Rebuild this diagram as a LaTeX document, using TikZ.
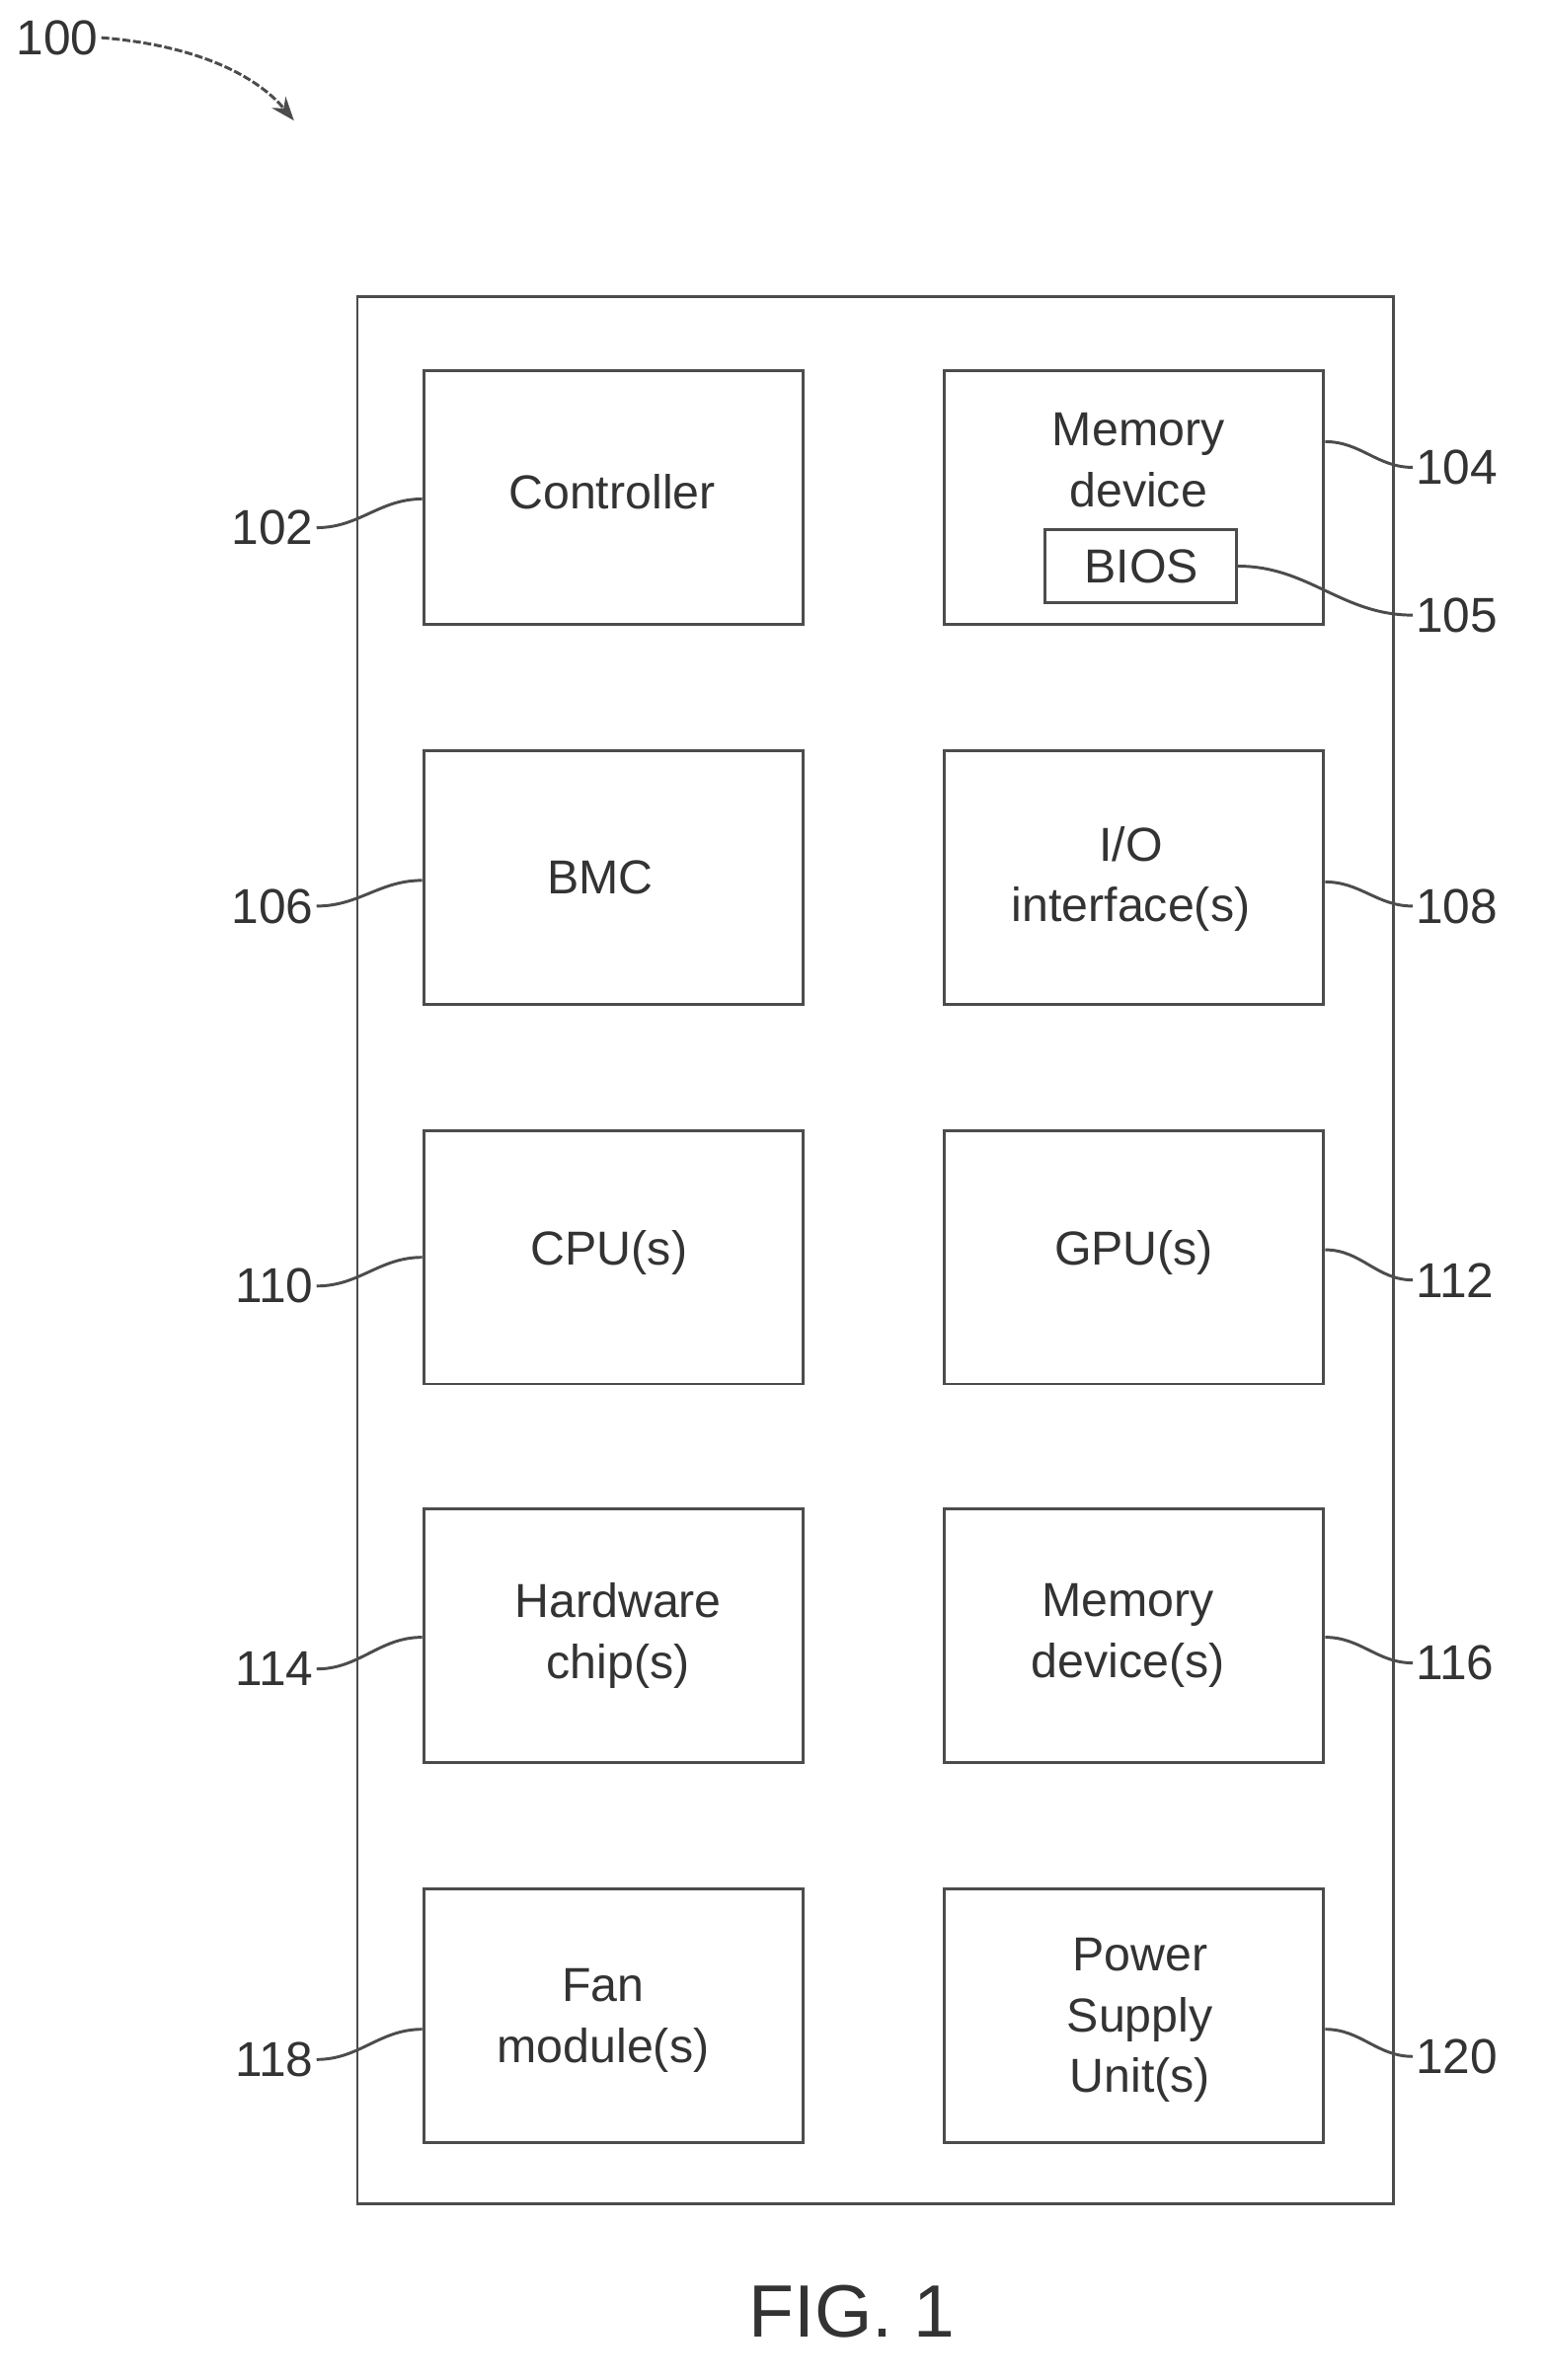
\documentclass[tikz,border=0pt]{standalone}
\usepackage{fontspec}
\setmainfont{Liberation Sans}
\usetikzlibrary{arrows.meta}
\begin{document}
\begin{tikzpicture}[x=0.02cm,y=-0.02cm,
  box/.style={draw=black!70,line width=1.1pt,inner sep=0pt},
  lbl/.style={font=\fontsize{18.5}{22}\selectfont,text=black!80,inner sep=1pt},
  txt/.style={font=\fontsize{18}{23}\selectfont,text=black!80,align=center},
  con/.style={draw=black!70,line width=1.1pt}]
\useasboundingbox (0,0) rectangle (1024,1578.6);
\draw[box] (237,197) rectangle (924,1462);
\foreach \n/\x/\y in {c/280/245, bmc/280/497, cpu/280/749, hw/280/1000, fan/280/1252,
  mem/625/245, io/625/497, gpu/625/749, md/625/1000, psu/625/1252}
  \node[box,minimum width=5.04cm,minimum height=3.36cm,anchor=north west] (\n) at (\x,\y) {};
\node[box,minimum width=2.54cm,minimum height=0.98cm] (bios) at (756.5,375.5) {};
\node[txt] (tc) at (406,326) {Controller};
\node[txt] (tm) at (755,305) {Memory\\device};
\node[txt] (tb) at (757,376) {BIOS};
\node[txt] (tbmc) at (398,582) {BMC};
\node[txt] (tio) at (750,583) {I/O\\interface(s)};
\node[txt] (tcpu) at (404,831) {CPU(s)};
\node[txt] (tgpu) at (752,831) {GPU(s)};
\node[txt] (thw) at (410,1085) {Hardware\\chip(s)};
\node[txt] (tmd) at (748,1085) {Memory\\device(s)};
\node[txt] (tfan) at (400,1340) {Fan\\module(s)};
\node[txt] (tpsu) at (756,1340) {Power\\Supply\\Unit(s)};
\node[font=\fontsize{28}{32}\selectfont,text=black!80] (fig) at (565,1533) {FIG. 1};
\node[lbl,anchor=east] (l102) at (210,350) {102};
\node[lbl,anchor=east] (l106) at (210,601) {106};
\node[lbl,anchor=east] (l110) at (210,853) {110};
\node[lbl,anchor=east] (l114) at (210,1107) {114};
\node[lbl,anchor=east] (l118) at (210,1366) {118};
\node[lbl,anchor=west] (l104) at (937,310) {104};
\node[lbl,anchor=west] (l105) at (937,408) {105};
\node[lbl,anchor=west] (l108) at (937,601) {108};
\node[lbl,anchor=west] (l112) at (937,849) {112};
\node[lbl,anchor=west] (l116) at (937,1103) {116};
\node[lbl,anchor=west] (l120) at (937,1364) {120};
\node[lbl] (l100) at (38,25) {100};
\foreach \l/\b/\dy in {l102/c/1, l106/bmc/2, l110/cpu/0, l114/hw/1, l118/fan/9}
  \draw[con] (\l.east) to[out=0,in=180] ([yshift=-\dy*0.02cm]\b.west);
\foreach \l/\b/\dy in {l104/mem/37, l108/io/-3, l112/gpu/5, l116/md/-1, l120/psu/-9}
  \draw[con] ([yshift=\dy*0.02cm]\b.east) to[out=0,in=180] (\l.west);
\draw[con] (bios.east) to[out=0,in=180] (l105.west);
\draw[con,dash pattern=on 3pt off 1pt,-{Stealth[length=9pt]}] (l100.east) .. controls (130,30) and (170,50) .. (195,80);
\end{tikzpicture}
\end{document}
